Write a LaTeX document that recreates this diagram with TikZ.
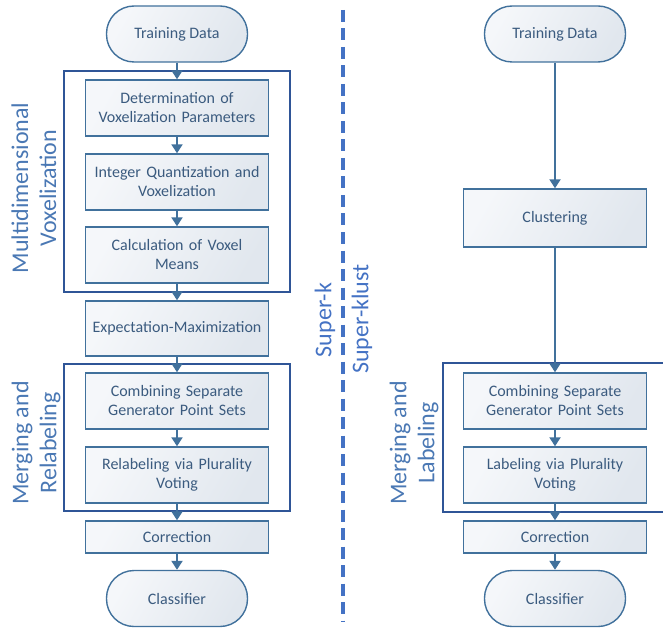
\documentclass[tikz,border=0pt]{standalone}
\usepackage{fontspec}
\setmainfont{Carlito}
\usetikzlibrary{arrows.meta,shapes.misc}
\definecolor{nodeborder}{HTML}{41719C}
\definecolor{nodetext}{HTML}{3B5B7F}
\definecolor{groupborder}{HTML}{2F5597}
\definecolor{labelblue}{HTML}{4A78B4}
\definecolor{dashblue}{HTML}{4472C4}
\definecolor{filltop}{HTML}{F5F7FA}
\definecolor{fillbot}{HTML}{E1E7EE}
\tikzset{
  procbox/.style={draw=nodeborder, line width=1.4pt, shading=axis, left color=filltop, right color=fillbot, shading angle=60,
    minimum width=183pt, text width=178pt, align=center, text=nodetext, font=\fontsize{16}{19}\selectfont, inner sep=0pt},
  termbox/.style={draw=nodeborder, line width=1.4pt, shading=axis, left color=filltop, right color=fillbot, shading angle=60,
    rounded corners=27.5pt, minimum width=141pt, minimum height=56pt, align=center, text=nodetext, font=\fontsize{16}{19}\selectfont},
  groupbox/.style={draw=groupborder, line width=2.4pt},
  flow/.style={draw=nodeborder, line width=2pt, -{Triangle[length=9pt,width=11pt]}},
  biglabel/.style={rotate=90, align=center, text=labelblue, font=\fontsize{24}{28}\selectfont},
  superlabel/.style={rotate=90, text=dashblue, font=\fontsize{24}{26}\selectfont},
}
\begin{document}
\begin{tikzpicture}[x=1pt,y=-1pt]
\useasboundingbox (0,0) rectangle (663,628);
\clip (0,0) rectangle (663,628);
% group boxes
\draw[groupbox] (64,71) rectangle (290,292);
\draw[groupbox] (64,364) rectangle (290,511);
\draw[groupbox] (443,363) rectangle (690,512);
% left column
\node[termbox] (tdL) at (177,34) {Training Data};
\node[procbox, minimum height=56pt] (detL) at (177,108) {Determination of\\Voxelization Parameters};
\node[procbox, minimum height=56pt] (intL) at (177,182) {Integer Quantization and\\Voxelization};
\node[procbox, minimum height=56pt] (calL) at (177,255) {Calculation of Voxel\\Means};
\node[procbox, minimum height=55pt] (emL) at (177,328.5) {Expectation-Maximization};
\node[procbox, minimum height=56pt] (comL) at (177,401) {Combining Separate\\Generator Point Sets};
\node[procbox, minimum height=56pt] (relL) at (177,475) {Relabeling via Plurality\\Voting};
\node[procbox, minimum height=32pt] (corL) at (177,537) {Correction};
\node[termbox] (clL) at (177,598.5) {Classifier};
\draw[flow] (tdL) -- (detL);
\draw[flow] (detL) -- (intL);
\draw[flow] (intL) -- (calL);
\draw[flow] (calL) -- (emL);
\draw[flow] (emL) -- (comL);
\draw[flow] (comL) -- (relL);
\draw[flow] (relL) -- (corL);
\draw[flow] (corL) -- (clL);
% right column
\node[termbox] (tdR) at (555,34) {Training Data};
\node[procbox, minimum height=58pt] (cluR) at (555,218) {Clustering};
\node[procbox, minimum height=56pt] (comR) at (555,401) {Combining Separate\\Generator Point Sets};
\node[procbox, minimum height=56pt] (labR) at (555,475) {Labeling via Plurality\\Voting};
\node[procbox, minimum height=32pt] (corR) at (555,537) {Correction};
\node[termbox] (clR) at (555,598.5) {Classifier};
\draw[flow] (tdR) -- (cluR);
\draw[flow] (cluR) -- (comR);
\draw[flow] (comR) -- (labR);
\draw[flow] (labR) -- (corR);
\draw[flow] (corR) -- (clR);
% labels
\node[biglabel] (lblVox) at (34,188) {Multidimensional\\Voxelization};
\node[biglabel] (lblMR) at (36,443) {Merging and\\Relabeling};
\node[biglabel] (lblML) at (414,443) {Merging and\\Labeling};
% divider
\coordinate (divTop) at (343,10);
\coordinate (divBot) at (343,621);
\draw[dashblue, line width=3.5pt, dash pattern=on 12pt off 6.5pt] (divTop) -- (divBot);
\node[superlabel] (supk) at (325,320) {Super-k};
\node[superlabel] (supkl) at (362,319) {Super-klust};
\end{tikzpicture}
\end{document}
